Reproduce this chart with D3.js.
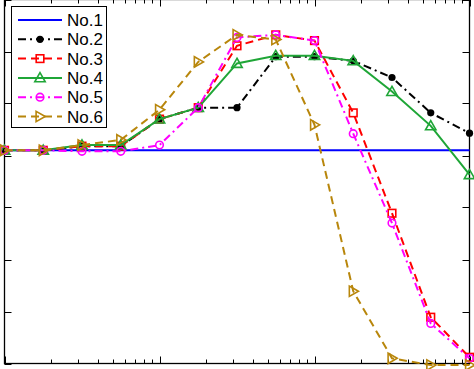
<!DOCTYPE html>
<html><head><meta charset="utf-8">
<script src="https://cdn.jsdelivr.net/npm/d3@7"></script>
<style>html,body{margin:0;padding:0;background:#fff;}svg{display:block;}</style>
</head><body>
<svg id="c" width="474" height="369"></svg>
<script>
// x positions (log axis)
const xValues = [1, 1.778, 3.162, 5.623, 10, 17.78, 31.62, 56.23, 100, 177.8, 316.2, 562.3, 1000];
const seriesNames = ["No.1", "No.2", "No.3", "No.4", "No.5", "No.6"];
const no1 = [4.1, 4.1, 4.1, 4.1, 4.1, 4.1, 4.1, 4.1, 4.1, 4.1, 4.1, 4.1, 4.1];
const no2 = [4.1, 4.1, 4.18, 4.18, 4.7, 4.92, 4.92, 5.9, 5.9, 5.82, 5.5, 4.82, 4.43];
const no3 = [4.1, 4.1, 4.18, 4.18, 4.7, 4.92, 6.11, 6.32, 6.21, 4.82, 2.89, 0.89, 0.12];
const no4 = [4.1, 4.1, 4.2, 4.2, 4.7, 4.92, 5.77, 5.92, 5.92, 5.82, 5.23, 4.57, 3.63];
const no5 = [4.1, 4.1, 4.08, 4.08, 4.2, 4.92, 6.27, 6.32, 6.21, 4.42, 2.7, 0.77, 0.1];
const no6 = [4.1, 4.1, 4.2, 4.3, 4.88, 5.8, 6.32, 6.23, 4.59, 1.39, 0.1, -0.03, -0.03];
const xDomain = [1, 1000];
const yDomain = [0, 7];
const yTicks = [0, 1, 2, 3, 4, 5, 6, 7];

const styles = [
  {color: "#0000ff", dash: null, marker: "none"},
  {color: "#000000", dash: "8,4,2,4", marker: "dot"},
  {color: "#ff0000", dash: "8,5", marker: "square"},
  {color: "#1fa637", dash: null, marker: "triangle"},
  {color: "#ff00ff", dash: "8,4,2,4", marker: "circle"},
  {color: "#b8860b", dash: "8,5", marker: "tright"}
];
const allSeries = [no1, no2, no3, no4, no5, no6];

const svg = d3.select("#c");
const L = 4.5, R = 469.5, T = -0.5, B = 363.5;
const x = d3.scaleLog().domain(xDomain).range([L, R]);
const y = d3.scaleLinear().domain(yDomain).range([B, T]);

// axes (ticks inward)
const tickLen = 5;
const g = svg.append("g");
const xt = x.ticks();
xt.forEach(v => {
  const isMajor = Math.abs(Math.log10(v) - Math.round(Math.log10(v))) < 1e-9;
  const len = isMajor ? tickLen + 2 : tickLen - 1;
  const px = Math.round(x(v)) + 0.5;
  g.append("line").attr("x1", px).attr("x2", px).attr("y1", B).attr("y2", B - len).attr("stroke", "#000").attr("stroke-width", 1);
  g.append("line").attr("x1", px).attr("x2", px).attr("y1", T).attr("y2", T + len).attr("stroke", "#000").attr("stroke-width", 1);
});
yTicks.forEach(v => {
  const py = Math.round(y(v)) + 0.5;
  g.append("line").attr("x1", L).attr("x2", L + tickLen + 2).attr("y1", py).attr("y2", py).attr("stroke", "#000");
  g.append("line").attr("x1", R).attr("x2", R - tickLen - 2).attr("y1", py).attr("y2", py).attr("stroke", "#000");
});
g.append("rect").attr("x", L).attr("y", T).attr("width", R - L).attr("height", B - T)
  .attr("fill", "none").attr("stroke", "#000").attr("stroke-width", 1.3);

function drawMarker(sel, type, color, cx, cy) {
  if (type === "dot") {
    sel.append("circle").attr("cx", cx).attr("cy", cy).attr("r", 3.6).attr("fill", color);
  } else if (type === "square") {
    sel.append("rect").attr("x", cx - 3.8).attr("y", cy - 3.8).attr("width", 7.6).attr("height", 7.6)
      .attr("fill", "none").attr("stroke", color).attr("stroke-width", 1.6);
  } else if (type === "circle") {
    sel.append("circle").attr("cx", cx).attr("cy", cy).attr("r", 3.8).attr("fill", "none").attr("stroke", color).attr("stroke-width", 1.6);
  } else if (type === "triangle") {
    const s = 5.2;
    sel.append("path").attr("d", `M${cx},${cy - s}L${cx + s},${cy + s * 0.75}L${cx - s},${cy + s * 0.75}Z`)
      .attr("fill", "none").attr("stroke", color).attr("stroke-width", 1.6);
  } else if (type === "tright") {
    const s = 5.2;
    sel.append("path").attr("d", `M${cx + s},${cy}L${cx - s * 0.75},${cy - s}L${cx - s * 0.75},${cy + s}Z`)
      .attr("fill", "none").attr("stroke", color).attr("stroke-width", 1.6);
  }
}

const line = d3.line().x((d, i) => x(xValues[i])).y(d => y(d));
allSeries.forEach((data, si) => {
  const st = styles[si];
  const sg = svg.append("g");
  sg.append("path").attr("d", line(data)).attr("fill", "none").attr("stroke", st.color)
    .attr("stroke-width", 2).attr("stroke-dasharray", st.dash);
  data.forEach((d, i) => drawMarker(sg, st.marker, st.color, x(xValues[i]), y(d)));
});

// legend
const lg = svg.append("g");
lg.append("rect").attr("x", 11.5).attr("y", 6.5).attr("width", 95).attr("height", 121)
  .attr("fill", "#fff").attr("stroke", "#000").attr("stroke-width", 1);
seriesNames.forEach((name, i) => {
  const st = styles[i];
  const ly = 20 + i * 19.3;
  lg.append("line").attr("x1", 18).attr("x2", 62).attr("y1", ly).attr("y2", ly)
    .attr("stroke", st.color).attr("stroke-width", 2).attr("stroke-dasharray", st.dash);
  drawMarker(lg, st.marker, st.color, 40, ly);
  lg.append("text").attr("x", 67).attr("y", ly + 6).text(name)
    .attr("font-family", "Liberation Sans, Arial, sans-serif").attr("font-size", 17).attr("fill", "#000");
});
</script>
</body></html>
